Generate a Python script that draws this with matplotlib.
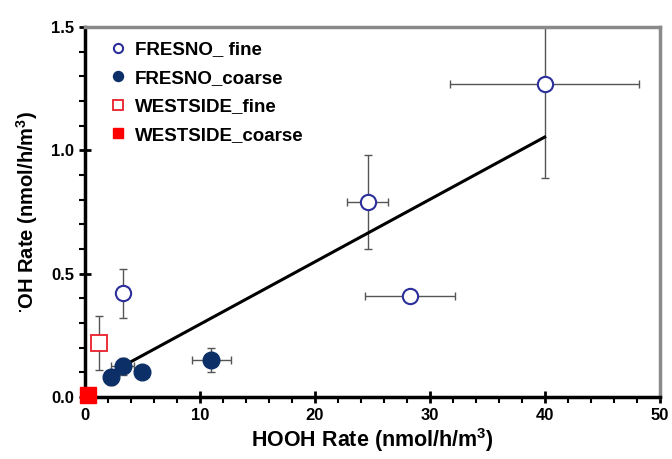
import matplotlib
matplotlib.use("Agg")
import matplotlib.pyplot as plt
from matplotlib.ticker import MultipleLocator
import numpy as np

plt.rcParams['font.family'] = ['Liberation Sans', 'DejaVu Sans']
plt.rcParams['font.weight'] = 'bold'
plt.rcParams['mathtext.fontset'] = 'custom'
plt.rcParams['mathtext.rm'] = 'Liberation Sans:bold'
plt.rcParams['mathtext.bf'] = 'Liberation Sans:bold'

# FRESNO fine
ff_x = [3.3, 24.6, 28.3, 40.0]
ff_y = [0.42, 0.79, 0.41, 1.27]
ff_xerr = [0.0, 1.8, 3.9, 8.2]
ff_yerr = [0.10, 0.19, 0.0, 0.38]

# FRESNO coarse
fc_x = [2.3, 3.3, 5.0, 11.0]
fc_y = [0.08, 0.125, 0.10, 0.15]
fc_xerr = [0.0, 1.0, 0.0, 1.7]
fc_yerr = [0.03, 0.035, 0.0, 0.05]

# WESTSIDE fine
wf_x = [1.2]
wf_y = [0.22]
wf_yerr = [0.11]

# WESTSIDE coarse
wc_x = [0.3]
wc_y = [0.01]

# regression line
fit_slope = 0.0253
fit_icpt = 0.042
fit_range = [2.3, 40.0]

navy = '#0b2f66'
ecol = '#555555'

fig = plt.figure(figsize=(6.72, 4.59), dpi=100)
ax = fig.add_axes([0.1265, 0.135, 0.855, 0.806])

ekw = dict(fmt='none', ecolor=ecol, elinewidth=1.0, capsize=3, capthick=1.0, zorder=2)
ax.errorbar(ff_x, ff_y, xerr=ff_xerr, yerr=ff_yerr, **ekw)
ax.errorbar(fc_x, fc_y, xerr=fc_xerr, yerr=fc_yerr, **ekw)
ax.errorbar(wf_x, wf_y, yerr=wf_yerr, **ekw)

xl = np.array(fit_range)
ax.plot(xl, fit_slope * xl + fit_icpt, color='black', lw=2.2, zorder=3)

ax.plot(ff_x, ff_y, 'o', ms=11, mfc='white', mec='#2b2f9a', mew=1.5,
        label='FRESNO_ fine', zorder=4)
ax.plot(fc_x, fc_y, 'o', ms=12, mfc=navy, mec=navy, mew=1.0,
        label='FRESNO_coarse', zorder=4)
ax.plot(wf_x, wf_y, 's', ms=11, mfc='white', mec='#e8202a', mew=1.3,
        label='WESTSIDE_fine', zorder=4)
ax.plot(wc_x, wc_y, 's', ms=11, mfc='#ff0000', mec='#ff0000',
        label='WESTSIDE_coarse', zorder=5, clip_on=False)

ax.set_xlim(0, 50)
ax.set_ylim(0, 1.5)
ax.xaxis.set_major_locator(MultipleLocator(10))
ax.xaxis.set_minor_locator(MultipleLocator(2))
ax.yaxis.set_major_locator(MultipleLocator(0.5))
ax.yaxis.set_minor_locator(MultipleLocator(0.1))
ax.yaxis.set_major_formatter(plt.FuncFormatter(lambda v, p: '%.1f' % v))

ax.tick_params(which='major', direction='inout', length=8, width=2, labelsize=12, pad=4)
ax.tick_params(which='minor', direction='out', length=4, width=1.5)
ax.tick_params(top=False, right=False)
for lab in ax.get_xticklabels() + ax.get_yticklabels():
    lab.set_fontweight('bold')

for s in ['left', 'bottom']:
    ax.spines[s].set_linewidth(2.5)
    ax.spines[s].set_color('black')
for s in ['top', 'right']:
    ax.spines[s].set_linewidth(2.5)
    ax.spines[s].set_color('#8a8a8a')

ax.set_xlabel('HOOH Rate (nmol/h/m$^{3}$)', fontsize=15.5, fontweight='bold', labelpad=2)
ax.set_ylabel('$^{\\bullet}$OH Rate (nmol/h/m$^{3}$)', fontsize=14.5, fontweight='bold', labelpad=8)

leg = ax.legend(loc='upper left', bbox_to_anchor=(0.012, 1.007), frameon=False,
                handletextpad=0.4, handlelength=1.0, labelspacing=0.6,
                markerscale=0.6, prop={'weight': 'bold', 'size': 13.5})

fig.savefig('out.png', dpi=100)
